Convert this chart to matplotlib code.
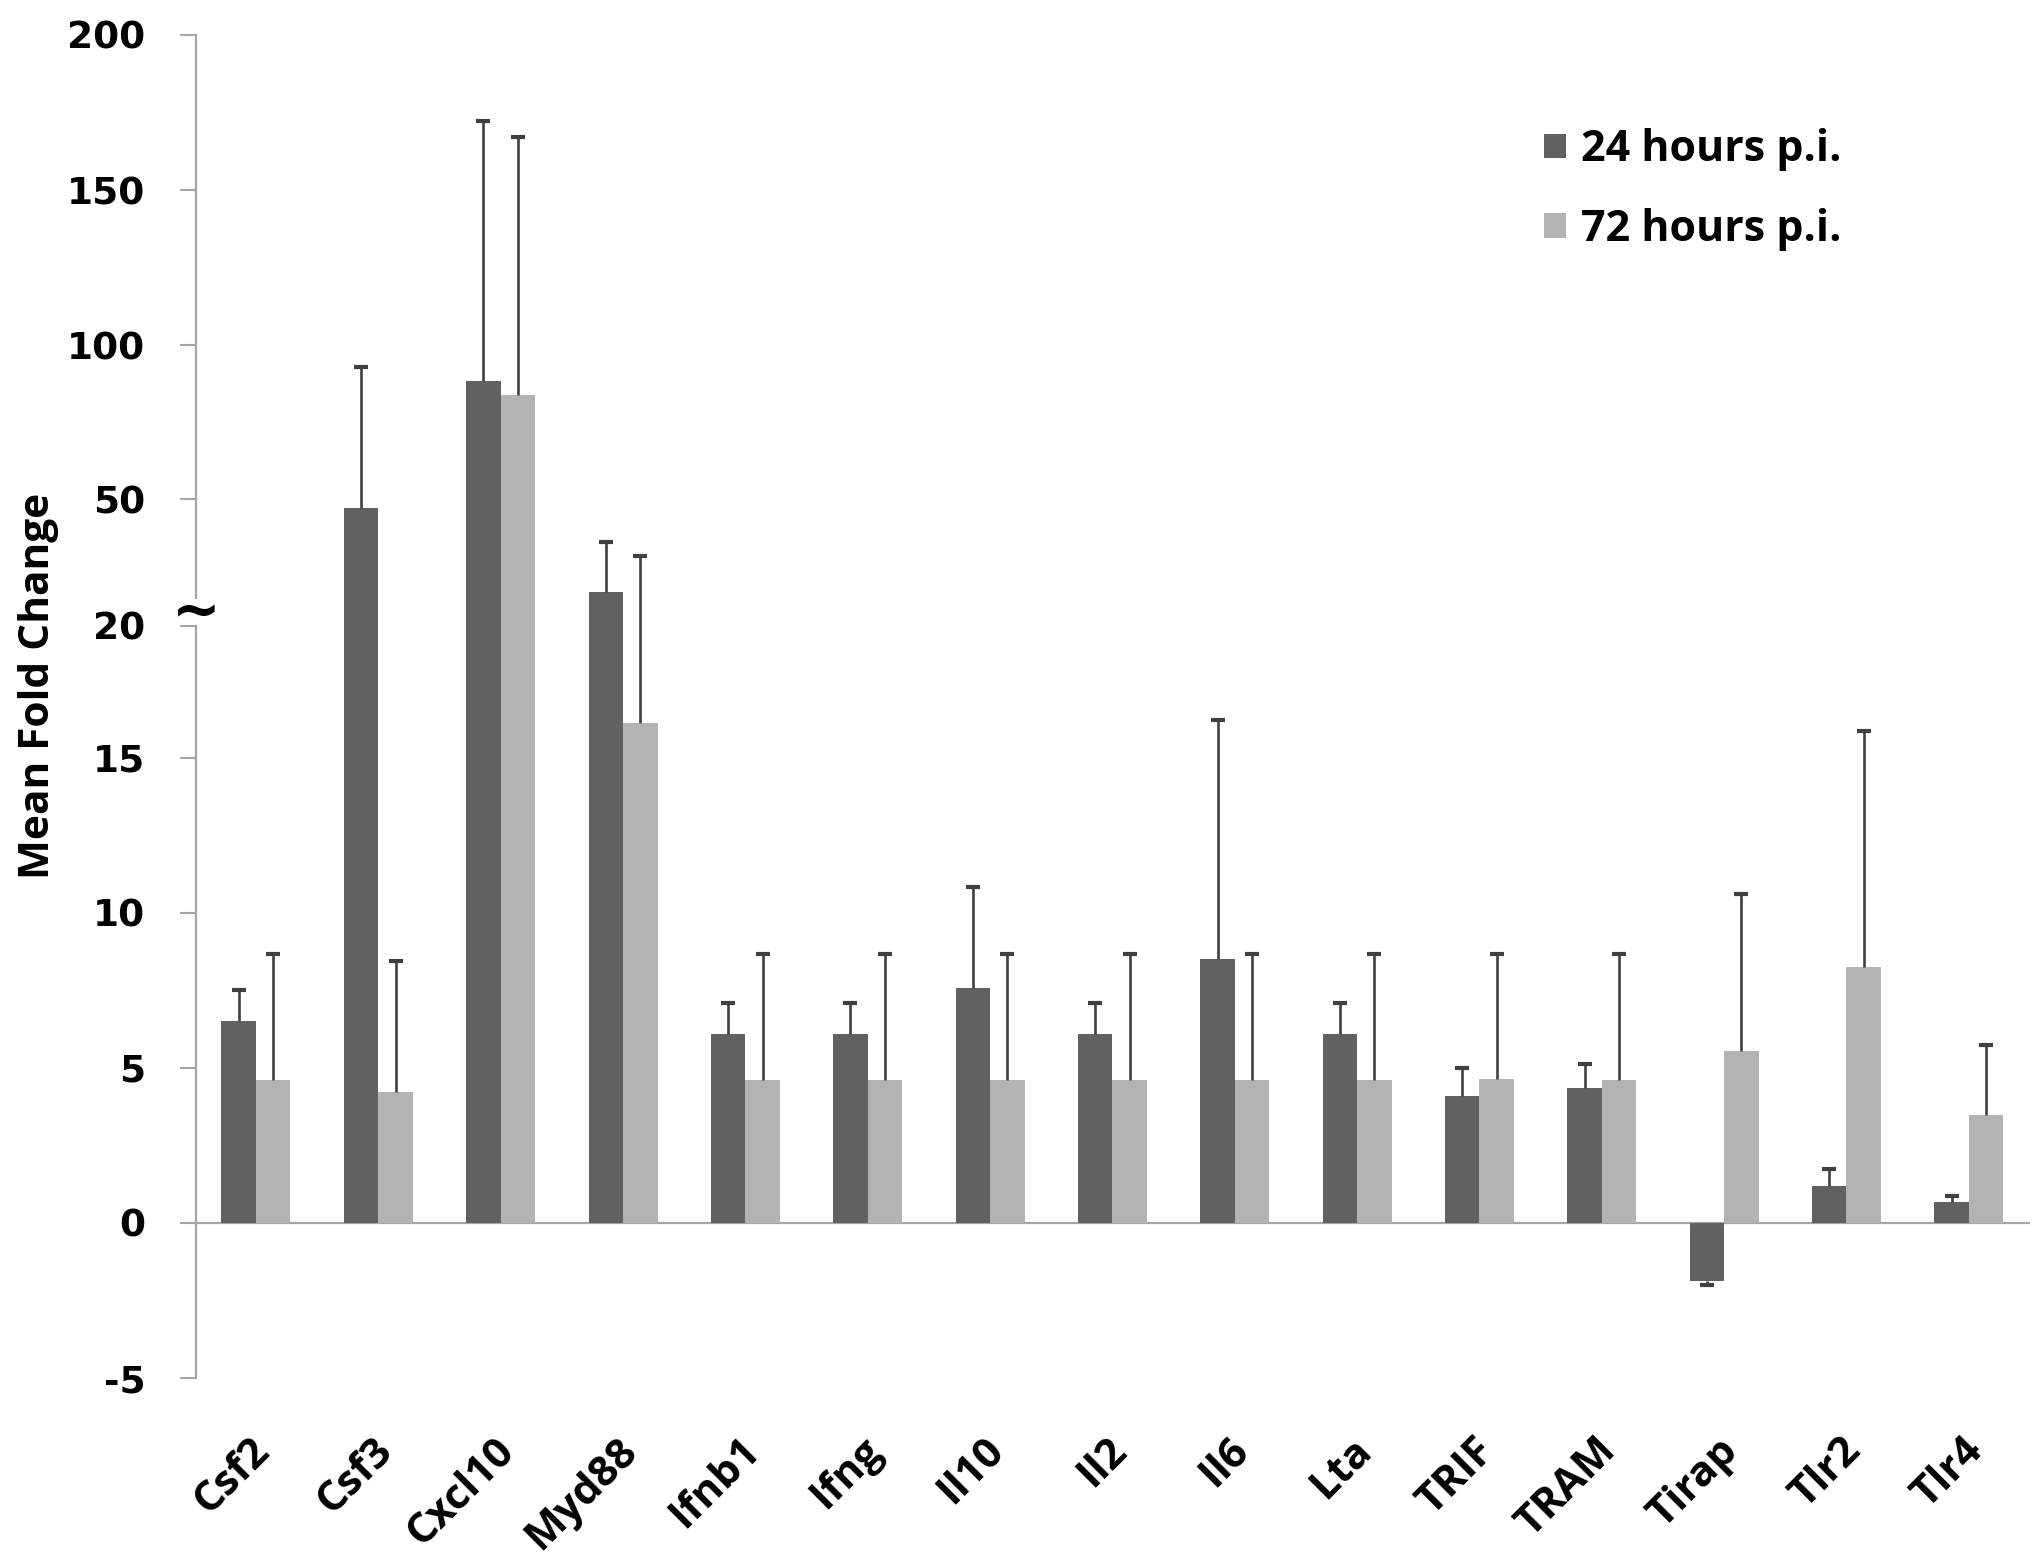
# Mean fold change of immune genes at 24 h and 72 h p.i. (broken y axis)

import numpy as np
import matplotlib
matplotlib.use('Agg')
import matplotlib.pyplot as plt
import matplotlib.transforms as mtransforms

genes = ['Csf2', 'Csf3', 'Cxcl10', 'Myd88', 'Ifnb1', 'Ifng', 'Il10', 'Il2',
         'Il6', 'Lta', 'TRIF', 'TRAM', 'Tirap', 'Tlr2', 'Tlr4']

fold_24h = [6.5, 48.0, 88.3, 28.0, 6.08, 6.08, 7.58, 6.08, 8.52, 6.08, 4.08, 4.35, -1.86, 1.2, 0.68]
err_24h = [1.0, 45.0, 84.0, 11.9, 1.0, 1.0, 3.26, 1.0, 7.92, 1.0, 0.92, 0.76, 0.14, 0.53, 0.2]

fold_72h = [4.62, 4.21, 84.0, 16.3, 4.62, 4.62, 4.6, 4.62, 4.62, 4.62, 4.65, 4.62, 5.56, 8.25, 3.49]
err_72h = [4.05, 4.25, 83.2, 20.2, 4.05, 4.05, 4.07, 4.05, 4.05, 4.05, 4.02, 4.05, 5.04, 7.78, 2.26]

# tick values of the broken axis and how far apart they sit (one step = 5 units below 15)
tick_vals = [-5, 0, 5, 10, 15, 20, 50, 100, 150, 200]
tick_pos = [0, 1, 2, 3, 4, 4.85, 5.665, 6.66, 7.66, 8.66]


def fwd(y):
    return np.interp(y, tick_vals, tick_pos)


def inv(p):
    return np.interp(p, tick_pos, tick_vals)


dark = '#616161'
light = '#b3b3b3'
err_col = '#404040'
axis_col = '#a6a6a6'

fig = plt.figure(figsize=(20.4, 15.66), dpi=100)
ax = fig.add_axes([0.0961, 0.12, 0.899, 0.8577])
ax.set_yscale('function', functions=(fwd, inv))

x = np.arange(len(genes))
w = 0.282

ax.bar(x - w / 2, fold_24h, w, color=dark, label='24 hours p.i.', zorder=2)
ax.bar(x + w / 2, fold_72h, w, color=light, label='72 hours p.i.', zorder=2)

# one-sided error bars (away from zero)
for xs, vals, errs in [(x - w / 2, fold_24h, err_24h), (x + w / 2, fold_72h, err_72h)]:
    vals = np.array(vals)
    ends = vals + np.sign(vals) * np.array(errs)
    ax.vlines(xs, vals, ends, color=err_col, lw=1.9, zorder=3)
    ax.plot(xs, ends, ls='none', marker='_', ms=10, mew=3, color=err_col, zorder=3)

ax.axhline(0, color=axis_col, lw=1.6, zorder=1)

ax.set_xlim(-0.49, 14.5)
ax.set_ylim(-5, 200)

for s in ax.spines.values():
    s.set_visible(False)

# left axis drawn in two pieces with a break mark
ytr = ax.get_yaxis_transform()
ax.plot([0, 0], [-5, 20], color=axis_col, lw=1.6, transform=ytr, clip_on=False)
ax.plot([0, 0], [26.5, 200], color=axis_col, lw=1.6, transform=ytr, clip_on=False)
ax.text(0.0, 23.0, '~', transform=ytr, ha='center', va='center', fontsize=42,
        fontweight='bold', color='black')

ax.set_yticks(tick_vals)
ax.set_yticklabels([str(v) for v in tick_vals])
ax.tick_params(axis='y', direction='out', length=11.5, width=1.5, color=axis_col,
               pad=25, labelsize=27)
for lab in ax.get_yticklabels():
    lab.set_fontweight('bold')
    lab.set_fontfamily('DejaVu Sans')

ax.set_xticks(x)
ax.set_xticklabels(genes, rotation=45, ha='right', va='center', rotation_mode='anchor',
                   fontsize=30.5, fontweight='bold', fontfamily='Open Sans')
ax.tick_params(axis='x', length=0, pad=48)
shift = mtransforms.ScaledTranslation(6 / 72, 0, fig.dpi_scale_trans)
for lab in ax.get_xticklabels():
    lab.set_transform(lab.get_transform() + shift)

fig.text(39 / 2040, 0.562, 'Mean Fold Change', rotation=90, ha='center', va='center',
         fontsize=30.5, fontweight='bold', fontfamily='Open Sans')

ax.legend(loc='upper left', bbox_to_anchor=(0.757, 0.918), bbox_transform=fig.transFigure,
          frameon=False, borderpad=0, borderaxespad=0, handlelength=0.5, handleheight=0.5,
          handletextpad=0.35, labelspacing=0.85,
          prop={'family': 'Open Sans', 'weight': 'bold', 'size': 31})

fig.savefig('out.png', dpi=100, facecolor='white')
